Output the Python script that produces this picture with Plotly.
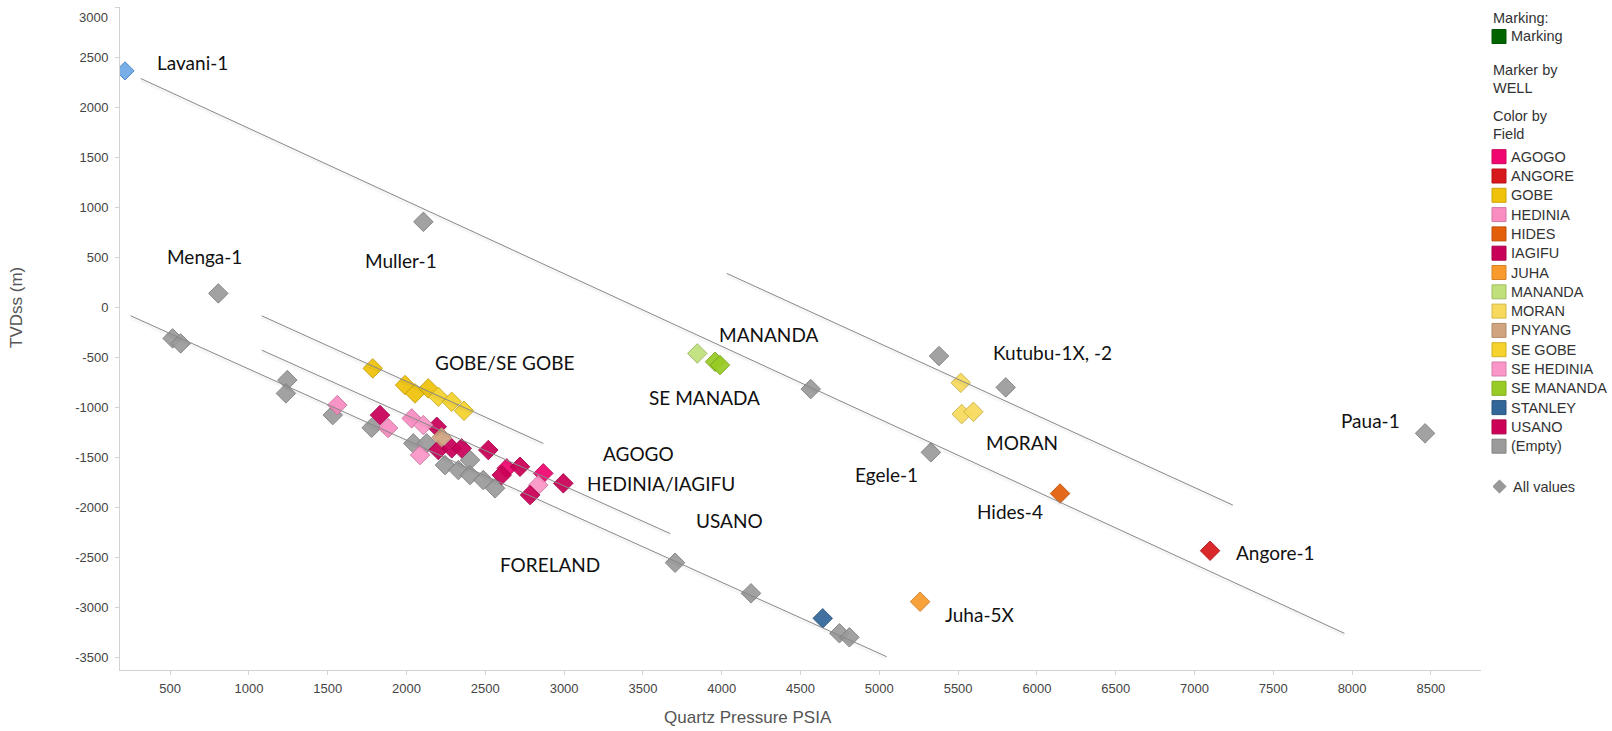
import plotly.graph_objects as go

# ---------------- data: quartz pressure (psia) vs depth TVDss (m) by field ----------------
AGOGO_X = [2868, 2636]
AGOGO_Y = [-1663, -1613]
ANGORE_X = [7099]
ANGORE_Y = [-2437]
GOBE_X = [1786, 1991, 2054, 2138]
GOBE_Y = [-613, -780, -863, -813]
HEDINIA_X = [1561, 1883, 2033]
HEDINIA_Y = [-980, -1210, -1113]
HIDES_X = [6147]
HIDES_Y = [-1865]
IAGIFU_X = [1832, 2192, 2202, 2287, 2350]
IAGIFU_Y = [-1080, -1197, -1430, -1413, -1413]
JUHA_X = [5259]
JUHA_Y = [-2947]
MANANDA_X = [3845]
MANANDA_Y = [-463]
MORAN_X = [5517, 5523, 5597]
MORAN_Y = [-757, -1070, -1047]
PNYANG_X = [2223]
PNYANG_Y = [-1303]
SE_GOBE_X = [2202, 2287, 2365]
SE_GOBE_Y = [-897, -947, -1037]
SE_HEDINIA_X = [2107, 2086, 2836]
SE_HEDINIA_Y = [-1180, -1480, -1780]
SE_MANANDA_X = [3958, 3989]
SE_MANANDA_Y = [-547, -580]
STANLEY_X = [4641]
STANLEY_Y = [-3113]
USANO_X = [2519, 2604, 2720, 2784, 2995]
USANO_Y = [-1430, -1680, -1597, -1880, -1763]
EMPTY_X = [516, 567, 806, 1244, 1235, 1532, 1779, 2043, 2128, 2244, 2329, 2403, 2403,
           2487, 2562, 2107, 3704, 4186, 4565, 4747, 4810, 5327, 5379, 5802, 8463]
EMPTY_Y = [-313, -363, 137, -730, -863, -1080, -1207, -1363, -1363, -1580, -1630, -1530,
           -1680, -1730, -1813, 853, -2557, -2863, -820, -3263, -3303, -1453, -490, -803, -1263]
LAVANI_X = [214]
LAVANI_Y = [2363]

FIELD_NAMES = ["AGOGO", "ANGORE", "GOBE", "HEDINIA", "HIDES", "IAGIFU", "JUHA", "MANANDA",
               "MORAN", "PNYANG", "SE GOBE", "SE HEDINIA", "SE MANANDA", "STANLEY", "USANO",
               "(Empty)"]

# pressure-gradient trend lines (start / end)
TREND_X = [[313, 7951], [4032, 7243], [249, 5047], [1081, 2868], [1081, 3674]]
TREND_Y = [[2287, -3263], [337, -1980], [-86, -3497], [-87, -1363], [-430, -2266]]

# well / field call-outs
LABEL_TEXT = ["Lavani-1", "Muller-1", "Menga-1", "MANANDA", "SE MANADA", "GOBE/SE GOBE",
              "AGOGO", "HEDINIA/IAGIFU", "USANO", "FORELAND", "Kutubu-1X, -2", "MORAN",
              "Egele-1", "Hides-4", "Angore-1", "Paua-1", "Juha-5X"]
LABEL_X = [404, 1726, 468, 3972, 3528, 2166, 3237, 3133, 3824, 2578, 5707, 5665, 4835,
           5605, 7251, 7919, 5403]
LABEL_Y = [2447, 470, 510, -270, -903, -557, -1463, -1763, -2130, -2570, -457, -1353,
           -1670, -2040, -2453, -1137, -3078]

X_TICKS = list(range(500, 9000, 500))
Y_TICKS = list(range(-3500, 3000, 500))
Y_TOP_TICK = 3000

# ---------------- styling ----------------
FIELD_COLORS = {
    "AGOGO": "#F0066E", "ANGORE": "#D7191C", "GOBE": "#F0C20A", "HEDINIA": "#F98DC2",
    "HIDES": "#E35F0A", "IAGIFU": "#C9005A", "JUHA": "#F99A2C", "MANANDA": "#BFE07A",
    "MORAN": "#F7DA5C", "PNYANG": "#D0A47F", "SE GOBE": "#F5D22C", "SE HEDINIA": "#FB96C8",
    "SE MANANDA": "#98CB25", "STANLEY": "#33679A", "USANO": "#CC0056", "(Empty)": "#9B9B9B",
}
FIELD_POINTS = {
    "AGOGO": (AGOGO_X, AGOGO_Y), "ANGORE": (ANGORE_X, ANGORE_Y), "GOBE": (GOBE_X, GOBE_Y),
    "HEDINIA": (HEDINIA_X, HEDINIA_Y), "HIDES": (HIDES_X, HIDES_Y),
    "IAGIFU": (IAGIFU_X, IAGIFU_Y), "JUHA": (JUHA_X, JUHA_Y),
    "MANANDA": (MANANDA_X, MANANDA_Y), "MORAN": (MORAN_X, MORAN_Y),
    "PNYANG": (PNYANG_X, PNYANG_Y), "SE GOBE": (SE_GOBE_X, SE_GOBE_Y),
    "SE HEDINIA": (SE_HEDINIA_X, SE_HEDINIA_Y), "SE MANANDA": (SE_MANANDA_X, SE_MANANDA_Y),
    "STANLEY": (STANLEY_X, STANLEY_Y), "USANO": (USANO_X, USANO_Y),
    "(Empty)": (EMPTY_X, EMPTY_Y),
}


def darker(hex_color, f=0.82):
    h = hex_color.lstrip("#")
    r, g, b = (int(h[i:i + 2], 16) for i in (0, 2, 4))
    return "rgb(%d,%d,%d)" % (r * f, g * f, b * f)


W, H = 1612, 731
ML, MR, MT, MB = 120, 131, 7, 61
PW, PH = W - ML - MR, H - MT - MB


def px(xp):
    return (xp - ML) / PW


def py(yp):
    return (H - MB - yp) / PH


fig = go.Figure()

# field markers (draw order: grey first, coloured on top)
order = ["(Empty)"] + [f for f in FIELD_NAMES if f != "(Empty)"]
for name in order:
    xs, ys = FIELD_POINTS[name]
    col = FIELD_COLORS[name]
    fig.add_trace(go.Scatter(
        x=xs, y=ys, mode="markers", name=name, showlegend=False,
        marker=dict(symbol="diamond", size=15, color=col, opacity=0.93,
                    line=dict(width=1, color=darker(col))),
    ))

fig.add_trace(go.Scatter(
    x=LAVANI_X, y=LAVANI_Y, mode="markers", name="Lavani-1", showlegend=False,
    marker=dict(symbol="diamond", size=14, color="#78AEE6",
                line=dict(width=1, color="#4A86C8")),
))

# trend lines with a faint soft shadow underneath
for lx, ly in zip(TREND_X, TREND_Y):
    fig.add_trace(go.Scatter(
        x=lx, y=[v - 16 for v in ly], mode="lines", showlegend=False, hoverinfo="skip",
        line=dict(color="rgba(0,0,0,0.035)", width=4),
    ))
    fig.add_trace(go.Scatter(
        x=lx, y=ly, mode="lines", showlegend=False, hoverinfo="skip",
        line=dict(color="#8A8A8A", width=1),
    ))

annotations = []
for t, x, y in zip(LABEL_TEXT, LABEL_X, LABEL_Y):
    annotations.append(dict(
        x=x, y=y, xref="x", yref="y", text=t, showarrow=False,
        xanchor="left", yanchor="middle",
        font=dict(family="Lato", size=19, color="#111111"),
    ))

TICK_FONT = dict(family="Liberation Sans", size=13, color="#444444")

# top y tick label, nudged inside the frame
annotations.append(dict(
    x=px(110), y=py(17.5), xref="paper", yref="paper", text=str(Y_TOP_TICK),
    showarrow=False, xanchor="right", yanchor="middle", font=TICK_FONT,
))

# axis titles
annotations.append(dict(
    x=px(748), y=py(717), xref="paper", yref="paper", text="Quartz Pressure PSIA",
    showarrow=False, xanchor="center", yanchor="middle",
    font=dict(family="Liberation Sans", size=17, color="#555555"),
))
annotations.append(dict(
    x=px(16), y=py(308), xref="paper", yref="paper", text="TVDss (m)", textangle=-90,
    showarrow=False, xanchor="center", yanchor="middle",
    font=dict(family="Liberation Sans", size=17, color="#555555"),
))

# legend panel
LEG_FONT = dict(family="Liberation Sans", size=14.5, color="#333333")
LX = 1492
shapes = []


def leg_text(text, x, y):
    annotations.append(dict(
        x=px(x), y=py(y), xref="paper", yref="paper", text=text, showarrow=False,
        xanchor="left", yanchor="middle", font=LEG_FONT,
    ))


def leg_swatch(color, y):
    shapes.append(dict(
        type="rect", xref="paper", yref="paper",
        x0=px(LX), x1=px(LX + 14), y0=py(y + 7), y1=py(y - 7),
        fillcolor=color, line=dict(color=darker(color, 0.85), width=1),
    ))


leg_text("Marking:", LX - 1, 18)
leg_swatch("#006400", 36.5)
leg_text("Marking", 1509, 36.5)
leg_text("Marker by", LX - 1, 70)
leg_text("WELL", LX - 1, 88)
leg_text("Color by", LX - 1, 116)
leg_text("Field", LX - 1, 134)
for i, name in enumerate(FIELD_NAMES):
    yy = 156.7 + i * 19.3
    leg_swatch(FIELD_COLORS[name], yy)
    leg_text(name, 1509, yy)

# "All values" diamond glyph
cx, cy, r = 1499.5, 486.5, 6.5
shapes.append(dict(
    type="path", xref="paper", yref="paper",
    path="M %f,%f L %f,%f L %f,%f L %f,%f Z" % (
        px(cx - r), py(cy), px(cx), py(cy - r), px(cx + r), py(cy), px(cx), py(cy + r)),
    fillcolor="#999999", line=dict(color="#8A8A8A", width=1),
))
leg_text("All values", 1511, 486.5)

axis_common = dict(
    showgrid=False, zeroline=False, showline=True, linecolor="#D2D2D2", linewidth=1,
    ticks="outside", ticklen=4, tickcolor="#D2D2D2", tickfont=TICK_FONT,
)

fig.update_layout(
    width=W, height=H, autosize=False,
    margin=dict(l=ML, r=MR, t=MT, b=MB, pad=0),
    paper_bgcolor="white", plot_bgcolor="white",
    showlegend=False,
    xaxis=dict(range=[182, 8818], tickvals=X_TICKS, ticktext=[str(v) for v in X_TICKS],
               ticklabelstandoff=2, **axis_common),
    yaxis=dict(range=[-3630, 3002], tickvals=Y_TICKS + [Y_TOP_TICK],
               ticktext=[str(v) for v in Y_TICKS] + [""],
               ticklabelstandoff=4, **axis_common),
    annotations=annotations,
    shapes=shapes,
)

fig.write_html("out.html")
